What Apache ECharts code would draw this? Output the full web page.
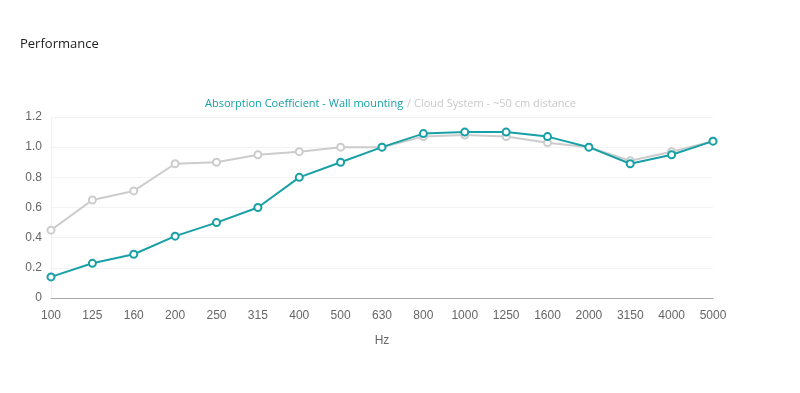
<!DOCTYPE html>
<html><head><meta charset="utf-8">
<script src="https://cdn.jsdelivr.net/npm/echarts@6/dist/echarts.min.js"></script>
<style>html,body{margin:0;padding:0;background:#fff}#c{width:800px;height:393px}</style>
</head><body><div id="c"></div>
<script>
const categories = ['100','125','160','200','250','315','400','500','630','800','1000','1250','1600','2000','3150','4000','5000'];
const wallMounting = [0.14,0.23,0.29,0.41,0.50,0.60,0.80,0.90,1.00,1.09,1.10,1.10,1.07,1.00,0.89,0.95,1.04];
const cloudSystem = [0.45,0.65,0.71,0.89,0.90,0.95,0.97,1.00,1.00,1.07,1.08,1.07,1.03,1.00,0.91,0.97,1.04];
const yTicks = [0,0.2,0.4,0.6,0.8,1.0,1.2];
const teal = '#17a0a6', gray = '#cccccc';
const chart = echarts.init(document.getElementById('c'));
chart.setOption({
  animation:false,
  title:{text:'Performance',left:15,top:33,textStyle:{fontFamily:'Open Sans',fontSize:13,fontWeight:'normal',color:'#222'}},
  legend:{
    top:92,left:195,icon:'none',itemWidth:0,itemGap:-1,selectedMode:false,
    textStyle:{fontFamily:'Open Sans',fontSize:11},
    data:[
      {name:'Absorption Coefficient - Wall mounting',textStyle:{color:teal}},
      {name:'/ Cloud System - ~50 cm distance',textStyle:{color:'#c8c8c8'}}
    ]
  },
  grid:{left:51,right:87,top:117,bottom:95,containLabel:false},
  xAxis:{type:'category',data:categories,boundaryGap:false,name:'Hz',nameLocation:'middle',nameGap:37,
    nameTextStyle:{fontFamily:'Liberation Sans',fontSize:12,color:'#666'},
    axisLine:{lineStyle:{color:'#aaa'}},axisTick:{show:false},
    axisLabel:{fontFamily:'Liberation Sans',fontSize:12,color:'#666',margin:12,interval:0},
    splitLine:{show:false}},
  yAxis:{type:'value',min:0,max:1.2,interval:0.2,
    axisLine:{show:true,lineStyle:{color:'#f0f0f0'}},axisTick:{show:false},
    axisLabel:{fontFamily:'Liberation Sans',fontSize:12,color:'#666',margin:9,
      formatter:v=>{const t=yTicks.find(x=>Math.abs(x-v)<1e-6);const r=t===undefined?v:t;return r===0?'0':r.toFixed(1);}},
    splitLine:{lineStyle:{color:'#f3f3f3'}}},
  series:[
    {name:'/ Cloud System - ~50 cm distance',type:'line',data:cloudSystem,symbol:'emptyCircle',symbolSize:7,
      lineStyle:{color:gray,width:2},itemStyle:{color:gray,borderWidth:2},z:2},
    {name:'Absorption Coefficient - Wall mounting',type:'line',data:wallMounting,symbol:'emptyCircle',symbolSize:7,
      lineStyle:{color:teal,width:2},itemStyle:{color:teal,borderWidth:2},z:3}
  ]
});
</script></body></html>
